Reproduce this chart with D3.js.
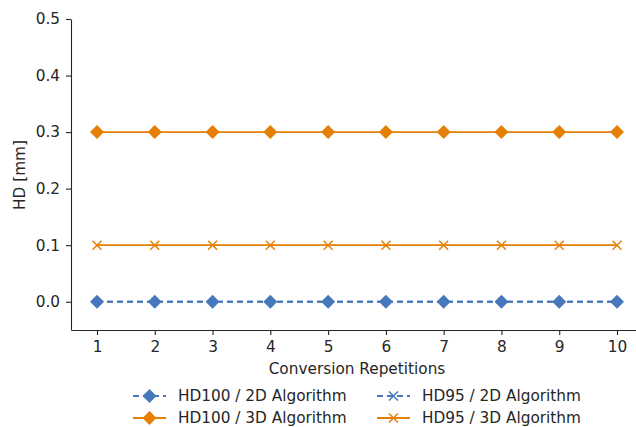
<!DOCTYPE html>
<html>
<head>
<meta charset="utf-8">
<script src="https://d3js.org/d3.v7.min.js"></script>
<style>
body { margin: 0; background: #fff; }
text { font-family: "DejaVu Sans", sans-serif; fill: #262626; }
</style>
</head>
<body>
<div id="chart"></div>
<script>
// data
var repetitions = [1, 2, 3, 4, 5, 6, 7, 8, 9, 10];
var hd100_2d = [0, 0, 0, 0, 0, 0, 0, 0, 0, 0];
var hd95_2d = [0, 0, 0, 0, 0, 0, 0, 0, 0, 0];
var hd100_3d = [0.3, 0.3, 0.3, 0.3, 0.3, 0.3, 0.3, 0.3, 0.3, 0.3];
var hd95_3d = [0.1, 0.1, 0.1, 0.1, 0.1, 0.1, 0.1, 0.1, 0.1, 0.1];
var yTicks = [0.0, 0.1, 0.2, 0.3, 0.4, 0.5];

var blue = "#4878bc", orange = "#e57f06";
var fontSize = "15.3px";

var series = [
    {name: "HD100 / 2D Algorithm", values: hd100_2d, color: blue, dash: "6,4", marker: "diamond"},
    {name: "HD100 / 3D Algorithm", values: hd100_3d, color: orange, dash: null, marker: "diamond"},
    {name: "HD95 / 2D Algorithm", values: hd95_2d, color: blue, dash: "6,4", marker: "x", hidden: true},
    {name: "HD95 / 3D Algorithm", values: hd95_3d, color: orange, dash: null, marker: "x"}
];

var width = 636, height = 427;
var mLeft = 71, mRight = 643, mTop = 19, mBottom = 330;

var svg = d3.select("#chart").append("svg")
    .attr("width", width).attr("height", height);

var x = d3.scaleLinear().domain([0.55, 10.45]).range([mLeft, mRight]);
var y = d3.scaleLinear().domain([-0.05, 0.5]).range([mBottom, mTop]);

var xAxis = svg.append("g")
    .attr("transform", `translate(0,${mBottom})`)
    .call(d3.axisBottom(x).tickValues(repetitions).tickFormat(d3.format("d"))
        .tickSize(5).tickPadding(6).tickSizeOuter(0));

var yAxis = svg.append("g")
    .attr("transform", `translate(${mLeft},0)`)
    .call(d3.axisLeft(y).tickValues(yTicks).tickFormat(d3.format(".1f"))
        .tickSize(5).tickPadding(6).tickSizeOuter(0));

[xAxis, yAxis].forEach(function (a) {
    a.select(".domain").attr("stroke", "#262626").attr("stroke-width", 1.1);
    a.selectAll(".tick line").attr("stroke", "#262626").attr("stroke-width", 1.1);
    a.selectAll(".tick text").style("font-size", fontSize).attr("fill", "#262626")
        .style("font-family", "DejaVu Sans");
});

svg.append("text")
    .attr("x", 357)
    .attr("y", 374)
    .attr("text-anchor", "middle")
    .style("font-size", fontSize)
    .text("Conversion Repetitions");

svg.append("text")
    .attr("transform", "translate(25,175) rotate(-90)")
    .attr("text-anchor", "middle")
    .style("font-size", fontSize)
    .text("HD [mm]");

function drawMarker(g, type, color) {
    if (type === "diamond") {
        g.append("path")
            .attr("d", "M0,-7L7,0L0,7L-7,0Z")
            .attr("fill", color);
    } else {
        g.append("path")
            .attr("d", "M-4.5,-4.5L4.5,4.5M-4.5,4.5L4.5,-4.5")
            .attr("stroke", color)
            .attr("stroke-width", 1.5)
            .attr("fill", "none");
    }
}

var line = d3.line()
    .x(function (d, i) { return x(repetitions[i]); })
    .y(function (d) { return y(d); });

// x-marker series first so the diamonds sit on top
[series[2], series[3], series[0], series[1]].forEach(function (s) {
    svg.append("path")
        .datum(s.values)
        .attr("d", line)
        .attr("fill", "none")
        .attr("stroke", s.color)
        .attr("stroke-width", 1.8)
        .attr("stroke-dasharray", s.dash);

    // HD95 / 2D markers are fully covered in the picture
    if (s.hidden) return;
    svg.append("g").selectAll("g")
        .data(s.values)
        .join("g")
        .attr("transform", function (d, i) { return `translate(${x(repetitions[i])},${y(d)})`; })
        .each(function () { drawMarker(d3.select(this), s.marker, s.color); });
});

// legend, two columns
var legendX = [133, 377], legendY = [396, 418];
series.forEach(function (s, i) {
    var col = Math.floor(i / 2), row = i % 2;
    var g = svg.append("g")
        .attr("transform", `translate(${legendX[col]},${legendY[row]})`);
    g.append("line")
        .attr("x1", 0).attr("x2", 33)
        .attr("stroke", s.color)
        .attr("stroke-width", 1.8)
        .attr("stroke-dasharray", s.dash);
    drawMarker(g.append("g").attr("transform", "translate(16.5,0)"), s.marker, s.color);
    g.append("text")
        .attr("x", 45)
        .attr("dy", "0.35em")
        .style("font-size", fontSize)
        .text(s.name);
});
</script>
</body>
</html>
